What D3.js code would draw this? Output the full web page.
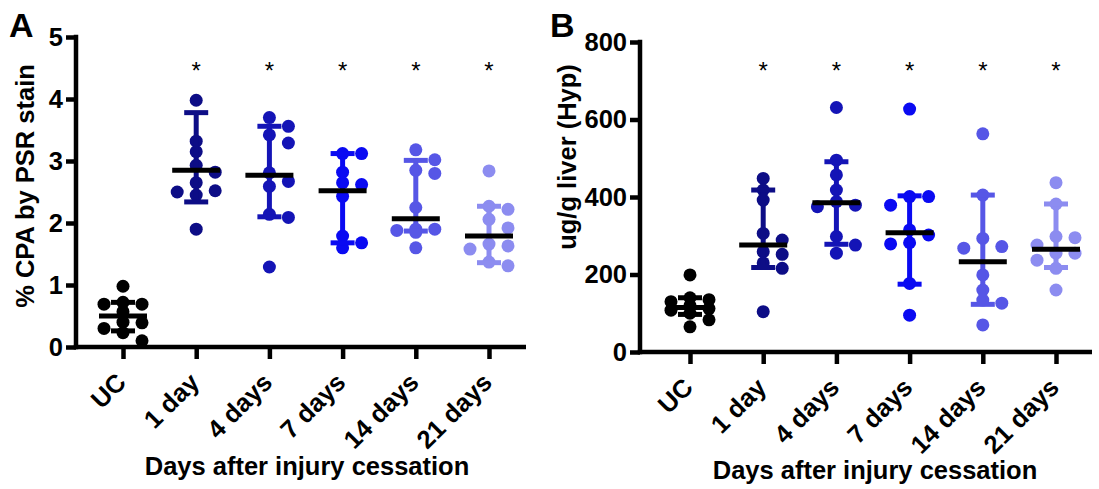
<!DOCTYPE html>
<html>
<head>
<meta charset="utf-8">
<script src="https://cdn.jsdelivr.net/npm/d3@7"></script>
<style>
  html, body { margin: 0; padding: 0; background: #ffffff; }
  svg { display: block; }
  text { font-family: "Liberation Sans", Arial, sans-serif; }
</style>
</head>
<body>
<svg id="chart" width="1099" height="489"></svg>
<script>
// ---------------- data ----------------
const categories = ["UC", "1 day", "4 days", "7 days", "14 days", "21 days"];
const significance = ["", "*", "*", "*", "*", "*"];

// Panel A: % CPA by PSR stain
const cpaUC   = [0.98, 0.72, 0.69, 0.69, 0.57, 0.40, 0.39, 0.30, 0.23, 0.10];
const cpa1d   = [3.98, 3.32, 3.15, 2.93, 2.82, 2.65, 2.52, 2.50, 2.45, 1.90];
const cpa4d   = [3.70, 3.56, 3.42, 3.29, 2.81, 2.67, 2.59, 2.14, 2.09, 1.29];
const cpa7d   = [3.12, 3.12, 2.82, 2.65, 2.62, 2.43, 1.79, 1.68, 1.60];
const cpa14d  = [3.18, 3.02, 2.85, 2.80, 2.25, 1.90, 1.90, 1.88, 1.85, 1.60];
const cpa21d  = [2.84, 2.27, 2.22, 2.06, 1.92, 1.66, 1.63, 1.58, 1.37, 1.31];
const cpaMedian = [0.50, 2.85, 2.77, 2.52, 2.07, 1.79];
const cpaUpper  = [0.72, 3.78, 3.56, 3.12, 3.01, 2.27];
const cpaLower  = [0.26, 2.34, 2.10, 1.68, 1.87, 1.36];
const cpaTicks  = [0, 1, 2, 3, 4, 5];

// Panel B: ug/g liver (Hyp)
const hypUC   = [199, 140, 135, 130, 120, 112, 108, 100, 83, 65];
const hyp1d   = [448, 418, 392, 306, 289, 259, 252, 230, 216, 104];
const hyp4d   = [631, 495, 457, 418, 388, 379, 375, 298, 276, 255];
const hyp7d   = [627, 401, 401, 379, 315, 302, 282, 279, 177, 95];
const hyp14d  = [563, 405, 293, 272, 268, 199, 160, 134, 126, 70];
const hyp21d  = [437, 382, 298, 295, 276, 255, 255, 237, 216, 160];
const hypMedian = [115, 276, 385, 308, 233, 265];
const hypUpper  = [140, 418, 491, 403, 405, 382];
const hypLower  = [97, 218, 278, 175, 123, 218];
const hypTicks  = [0, 200, 400, 600, 800];

const groupColors = ["#000000", "#0d0d86", "#1414b6", "#0a0af2", "#5656e6", "#8c8cf0"];

// ---------------- drawing ----------------
const svg = d3.select("#chart");
const FONT = "Liberation Sans, Arial, sans-serif";
const FS = 25.5;
const R = 6.5, COL = 19, AXW = 4.5;

function beeswarm(vals, yScale) {
  const placed = [];
  const order = vals.map((v, i) => i).sort((a, b) => vals[b] - vals[a]);
  const offs = [0, 1, -1];
  const res = new Array(vals.length);
  order.forEach(i => {
    const py = yScale(vals[i]);
    let best = null, bestD = -1;
    for (const o of offs) {
      const same = placed.filter(p => p.o === o);
      const d = same.length ? d3.min(same, p => Math.abs(p.y - py)) : Infinity;
      if (d >= 10) { best = o; break; }
      if (d > bestD) { bestD = d; best = o; }
    }
    placed.push({o: best, y: py});
    res[i] = best * COL;
  });
  return res;
}

function panel(cfg) {
  const g = svg.append("g");
  const y = d3.scaleLinear().domain(cfg.domain).range([cfg.y0, cfg.yTop]);
  const x = d3.scalePoint().domain(categories).range(cfg.xRange);

  // points
  cfg.points.forEach((vals, gi) => {
    const offs = beeswarm(vals, y);
    g.append("g").selectAll("circle").data(vals).join("circle")
      .attr("cx", (d, i) => x(categories[gi]) + offs[i])
      .attr("cy", d => y(d))
      .attr("r", R)
      .attr("fill", groupColors[gi]);
  });

  // error bars
  categories.forEach((c, gi) => {
    const cx = x(c), col = groupColors[gi];
    const eb = g.append("g").attr("stroke", col).attr("stroke-width", 5);
    eb.append("line").attr("x1", cx).attr("x2", cx)
      .attr("y1", y(cfg.upper[gi])).attr("y2", y(cfg.lower[gi]));
    [cfg.upper[gi], cfg.lower[gi]].forEach(v => {
      eb.append("line").attr("x1", cx - 12).attr("x2", cx + 12)
        .attr("y1", y(v)).attr("y2", y(v));
    });
    g.append("line").attr("x1", cx - 24).attr("x2", cx + 24)
      .attr("y1", y(cfg.median[gi])).attr("y2", y(cfg.median[gi]))
      .attr("stroke", "#000").attr("stroke-width", 5);
    if (significance[gi]) {
      g.append("text").attr("x", cx).attr("y", 79)
        .attr("text-anchor", "middle").attr("font-size", 24)
        .attr("font-family", FONT).attr("fill", "#000").text(significance[gi]);
    }
  });

  // y axis
  const ya = g.append("g").attr("transform", `translate(${cfg.axisX},0)`)
    .call(d3.axisLeft(y).tickValues(cfg.ticks).tickFormat(d3.format("d"))
      .tickSize(10).tickSizeOuter(0).tickPadding(3));
  ya.select(".domain").remove();
  ya.selectAll(".tick line").attr("stroke", "#000").attr("stroke-width", AXW);
  ya.selectAll(".tick text").attr("font-size", FS).attr("font-weight", "bold")
    .attr("font-family", FONT).attr("fill", "#000");
  g.append("line").attr("x1", cfg.axisX).attr("x2", cfg.axisX)
    .attr("y1", cfg.yTop - AXW / 2).attr("y2", cfg.y0 + AXW / 2)
    .attr("stroke", "#000").attr("stroke-width", AXW);

  // x axis
  const xa = g.append("g").attr("transform", `translate(0,${cfg.y0})`)
    .call(d3.axisBottom(x).tickSize(12).tickSizeOuter(0));
  xa.select(".domain").remove();
  xa.selectAll(".tick line").attr("stroke", "#000").attr("stroke-width", AXW);
  xa.selectAll(".tick text")
    .attr("x", 4).attr("y", 37).attr("dy", 0)
    .attr("text-anchor", "end")
    .attr("transform", "rotate(-45,4,37)")
    .attr("font-size", FS).attr("font-weight", "bold")
    .attr("font-family", FONT).attr("fill", "#000");
  g.append("line").attr("x1", cfg.axisX - AXW / 2).attr("x2", cfg.xEnd)
    .attr("y1", cfg.y0).attr("y2", cfg.y0)
    .attr("stroke", "#000").attr("stroke-width", AXW);

  // titles
  g.append("text").attr("transform", `translate(${cfg.yLabelX},${cfg.yLabelY}) rotate(-90)`)
    .attr("text-anchor", "middle").attr("font-size", FS).attr("font-weight", "bold")
    .attr("font-family", FONT).text(cfg.yLabel);
  g.append("text").attr("x", cfg.xTitleX).attr("y", cfg.xTitleY)
    .attr("text-anchor", "middle").attr("font-size", FS).attr("font-weight", "bold")
    .attr("font-family", FONT).text("Days after injury cessation");
  g.append("text").attr("x", cfg.letterX).attr("y", 37)
    .attr("font-size", 34).attr("font-weight", "bold")
    .attr("font-family", FONT).text(cfg.letter);
}

panel({
  domain: [0, 5], y0: 347, yTop: 37, axisX: 76, xRange: [123, 489], xEnd: 526,
  points: [cpaUC, cpa1d, cpa4d, cpa7d, cpa14d, cpa21d],
  median: cpaMedian, upper: cpaUpper, lower: cpaLower, ticks: cpaTicks,
  yLabel: "% CPA by PSR stain", yLabelX: 34, yLabelY: 186,
  xTitleX: 307, xTitleY: 475, letter: "A", letterX: 9
});

panel({
  domain: [0, 800], y0: 352, yTop: 42, axisX: 640, xRange: [690, 1056], xEnd: 1092,
  points: [hypUC, hyp1d, hyp4d, hyp7d, hyp14d, hyp21d],
  median: hypMedian, upper: hypUpper, lower: hypLower, ticks: hypTicks,
  yLabel: "ug/g liver (Hyp)", yLabelX: 576, yLabelY: 157,
  xTitleX: 875, xTitleY: 479, letter: "B", letterX: 550
});
</script>
</body>
</html>
